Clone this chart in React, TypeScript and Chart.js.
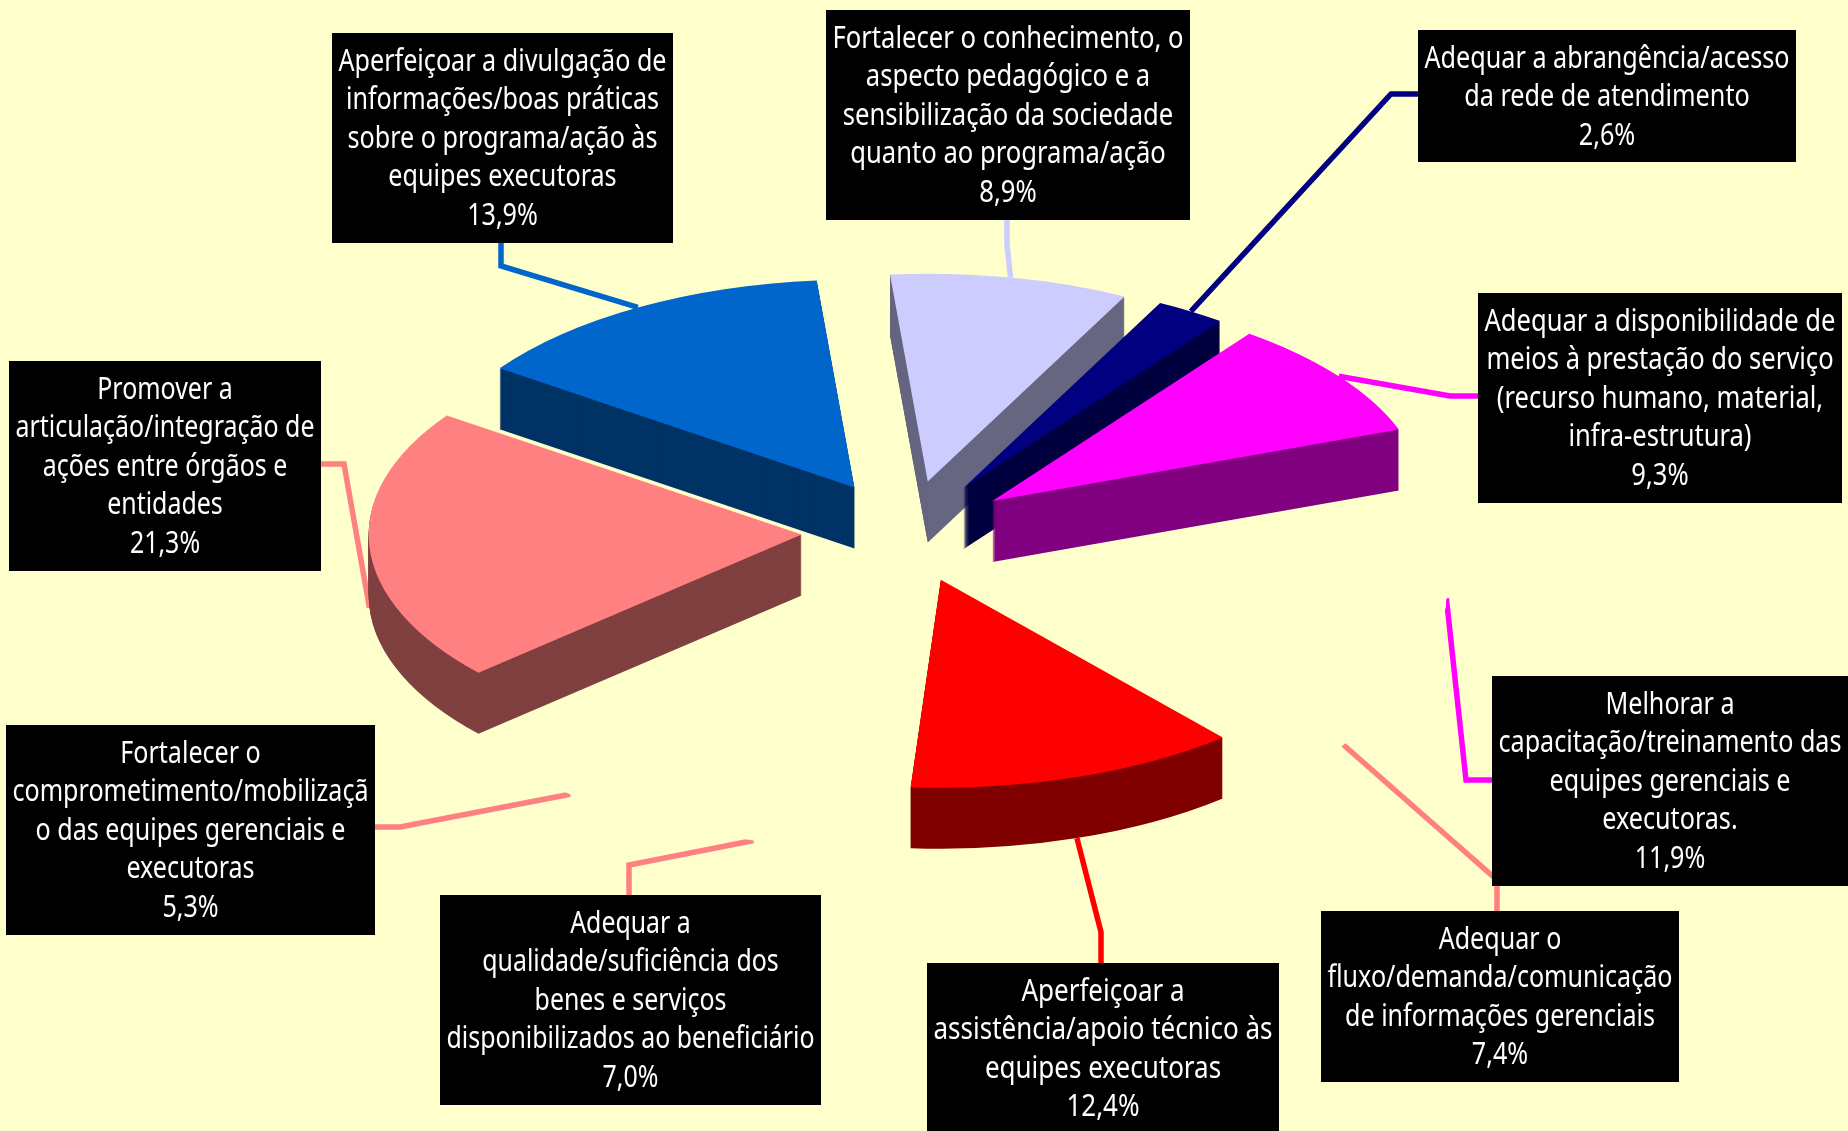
import React, { useEffect, useRef } from "react";
import { Chart, registerables } from "chart.js";

Chart.register(...registerables);

// Categories run clockwise starting at the light lilac slice.
const categories: string[][] = [
  ["Fortalecer o conhecimento, o", "aspecto pedagógico e a", "sensibilização da sociedade", "quanto ao programa/ação"],
  ["Adequar a abrangência/acesso", "da rede de atendimento"],
  ["Adequar a disponibilidade de", "meios à prestação do serviço", "(recurso humano, material,", "infra-estrutura)"],
  ["Melhorar a", "capacitação/treinamento das", "equipes gerenciais e", "executoras."],
  ["Adequar o", "fluxo/demanda/comunicação", "de informações gerenciais"],
  ["Aperfeiçoar a", "assistência/apoio técnico às", "equipes executoras"],
  ["Adequar a", "qualidade/suficiência dos", "benes e serviços", "disponibilizados ao beneficiário"],
  ["Fortalecer o", "comprometimento/mobilizaçã", "o das equipes gerenciais e", "executoras"],
  ["Promover a", "articulação/integração de", "ações entre órgãos e", "entidades"],
  ["Aperfeiçoar a divulgação de", "informações/boas práticas", "sobre o programa/ação às", "equipes executoras"],
];
const values = [8.9, 2.6, 9.3, 11.9, 7.4, 12.4, 7.0, 5.3, 21.3, 13.9];

const PAPER = "#FFFFCC";
const topColors = ["#CCCCFF", "#000080", "#FF00FF", PAPER, PAPER, "#FF0000", PAPER, PAPER, "#FF8080", "#0066CC"];
const wallColors = ["#666680", "#000040", "#800080", PAPER, PAPER, "#800000", PAPER, PAPER, "#804040", "#003366"];
const leaderColors = ["#CCCCFF", "#000080", "#FF00FF", "#FF00FF", "#FF8080", "#FF0000", "#FF8080", "#FF8080", "#FF8080", "#0066CC"];

// Callout rectangles as [left, top, right, bottom].
const boxes = [
  [826, 10, 1190, 220],
  [1418, 30, 1796, 162],
  [1478, 293, 1842, 503],
  [1492, 676, 1848, 886],
  [1321, 911, 1679, 1082],
  [927, 963, 1279, 1135],
  [440, 895, 821, 1105],
  [6, 725, 375, 935],
  [9, 361, 321, 571],
  [332, 33, 673, 243],
];

// Leader elbows, listed from the callout towards the slice.
const elbows = [
  [[1007, 220], [1007, 245]],
  [[1418, 94], [1391, 94]],
  [[1478, 396], [1450, 396]],
  [[1492, 780], [1466, 780]],
  [[1497, 911], [1497, 880]],
  [[1101, 963], [1101, 932]],
  [[629, 895], [629, 865]],
  [[375, 827], [400, 827]],
  [[321, 464], [344, 464]],
  [[501, 243], [501, 266]],
];

const CENTER_X = 907.5;
const CENTER_Y = 531.5;
const RADIUS = 433;
const EXPLODE = 106;
const TILT = 0.48;
const DEPTH = 61;
const FONT = '31px "Noto Sans"';
const LINE_HEIGHT = 38.4;

const midAngle = (el: any) => (el.startAngle + el.endAngle) / 2;

// Paints one arc element on the tilted plane with a given fill.
function paintArc(ctx: CanvasRenderingContext2D, el: any, color: string, drop: number) {
  const a = midAngle(el);
  const saved = el.options;
  el.options = { ...saved, backgroundColor: color, borderColor: color };
  ctx.save();
  ctx.translate(CENTER_X, CENTER_Y + drop);
  ctx.scale(1, TILT);
  ctx.translate(Math.cos(a) * EXPLODE, Math.sin(a) * EXPLODE);
  ctx.translate(-el.x, -el.y);
  el.draw(ctx);
  ctx.restore();
  el.options = saved;
}

const tiltedPie = {
  id: "tiltedPie",
  // Leaders go first so the paper-coloured slices can hide their inner ends.
  beforeDatasetsDraw(chart: any) {
    const { ctx } = chart;
    const arcs = chart.getDatasetMeta(0).data;
    arcs.forEach((el: any, i: number) => {
      const a = midAngle(el);
      const dx = Math.cos(a) * (EXPLODE + RADIUS);
      const dy = Math.sin(a) * (EXPLODE + RADIUS) * TILT;
      const tipY = CENTER_Y + dy + (Math.sin(a) >= 0 ? DEPTH : 0);
      ctx.save();
      ctx.strokeStyle = leaderColors[i];
      ctx.lineWidth = 5.5;
      ctx.lineJoin = "miter";
      ctx.beginPath();
      elbows[i].forEach(([x, y], k) => (k ? ctx.lineTo(x, y) : ctx.moveTo(x, y)));
      ctx.lineTo(CENTER_X + dx, tipY);
      ctx.stroke();
      ctx.restore();
    });
  },
  beforeDatasetDraw(chart: any) {
    const { ctx } = chart;
    const arcs = chart.getDatasetMeta(0).data;
    const order = arcs
      .map((el: any, i: number) => i)
      .sort((p: number, q: number) => {
        const paperFirst = Number(topColors[p] !== PAPER) - Number(topColors[q] !== PAPER);
        return paperFirst || Math.sin(midAngle(arcs[p])) - Math.sin(midAngle(arcs[q]));
      });
    order.forEach((i: number) => {
      for (let drop = DEPTH; drop >= 1; drop--) paintArc(ctx, arcs[i], wallColors[i], drop);
      paintArc(ctx, arcs[i], topColors[i], 0);
    });
    return false;
  },
  afterDatasetsDraw(chart: any) {
    const { ctx } = chart;
    categories.forEach((lines, i) => {
      const [l, t, r, b] = boxes[i];
      ctx.fillStyle = "#000000";
      ctx.fillRect(l, t, r - l, b - t);
      const rows = [...lines, values[i].toFixed(1).replace(".", ",") + "%"];
      ctx.save();
      ctx.font = FONT;
      ctx.fillStyle = "#FFFFFF";
      ctx.textAlign = "center";
      ctx.textBaseline = "alphabetic";
      const widest = Math.max(...rows.map((s) => ctx.measureText(s).width));
      const squeeze = (r - l - 13) / widest;
      ctx.translate((l + r) / 2, t + 38);
      ctx.scale(squeeze, 1);
      rows.forEach((s, k) => ctx.fillText(s, 0, k * LINE_HEIGHT));
      ctx.restore();
    });
  },
};

export default function App() {
  const ref = useRef<HTMLCanvasElement>(null);
  useEffect(() => {
    const chart = new Chart(ref.current!, {
      type: "pie",
      data: {
        labels: categories.map((c) => c.join(" ")),
        datasets: [{ data: values, backgroundColor: topColors, borderWidth: 0 }],
      },
      options: {
        animation: false,
        responsive: false,
        rotation: -5,
        radius: RADIUS,
        plugins: { legend: { display: false }, tooltip: { enabled: false } },
        events: [],
      },
      plugins: [tiltedPie],
    } as any);
    return () => chart.destroy();
  }, []);
  return (
    <div style={{ position: "fixed", inset: 0, background: PAPER }}>
      <canvas ref={ref} width={1848} height={1131} style={{ display: "block", width: 1848, height: 1131 }} />
    </div>
  );
}
